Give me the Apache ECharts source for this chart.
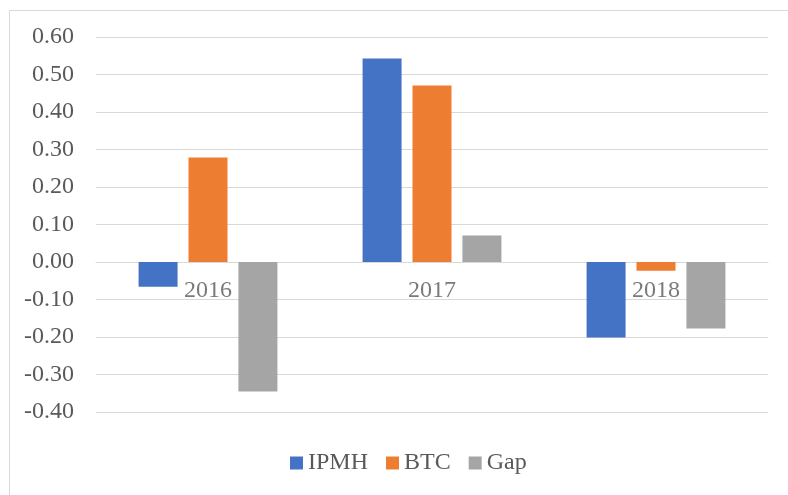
<!DOCTYPE html>
<html>
<head>
<meta charset="utf-8">
<script src="https://cdn.jsdelivr.net/npm/echarts@6/dist/echarts.min.js"></script>
<style>html,body{margin:0;padding:0;background:#fff;}#c{width:788px;height:495px;}</style>
</head>
<body>
<div id="c"></div>
<script>
const categories = ['2016', '2017', '2018'];
const seriesNames = ['IPMH', 'BTC', 'Gap'];
const ipmh = [-0.066, 0.543, -0.201];
const btc = [0.279, 0.471, -0.023];
const gap = [-0.345, 0.071, -0.177];
const yTicks = { min: -0.4, max: 0.6, interval: 0.1 };

const font = 'Liberation Serif';
const txt = '#595959';
const colors = ['#4472C4', '#ED7D31', '#A5A5A5'];
const values = [ipmh, btc, gap];

const chart = echarts.init(document.getElementById('c'), null, { renderer: 'canvas' });
const barSeries = seriesNames.map((n, i) => ({
  name: n, type: 'bar', data: values[i],
  barWidth: 39, barGap: '28%',
  itemStyle: { color: colors[i] }
}));
// category labels sitting just under the zero line
barSeries.push({
  name: 'catLabels', type: 'scatter', silent: true,
  symbolSize: 0, z: 10,
  data: categories.map(c => [c, 0]),
  label: {
    show: true, position: 'bottom', distance: 17,
    formatter: p => p.data[0],
    fontFamily: font, fontSize: 24, color: txt
  }
});
chart.setOption({
  animation: false,
  backgroundColor: '#fff',
  color: colors,
  textStyle: { fontFamily: font },
  graphic: [{
    type: 'rect', left: 7, top: 8, silent: true,
    shape: { width: 900, height: 600 },
    style: { fill: 'none', stroke: '#d9d9d9', lineWidth: 1 }
  }],
  grid: { left: 96, right: 20, top: 37, bottom: 83 },
  legend: {
    left: 290, top: 451, padding: 0,
    itemWidth: 13, itemHeight: 13, itemGap: 18,
    icon: 'rect',
    textStyle: { fontFamily: font, fontSize: 24, color: txt },
    data: seriesNames
  },
  xAxis: {
    type: 'category',
    data: categories,
    axisLine: { onZero: true, lineStyle: { color: '#d9d9d9', width: 1 } },
    axisTick: { show: false },
    axisLabel: { show: false }
  },
  yAxis: {
    type: 'value',
    min: yTicks.min, max: yTicks.max, interval: yTicks.interval,
    axisLine: { show: false },
    axisTick: { show: false },
    splitLine: { lineStyle: { color: '#d9d9d9', width: 1 } },
    axisLabel: {
      fontFamily: font, fontSize: 24, color: txt, margin: 22,
      formatter: v => (Math.abs(v) < 1e-9 ? 0 : v).toFixed(2)
    }
  },
  series: barSeries
});
</script>
</body>
</html>
